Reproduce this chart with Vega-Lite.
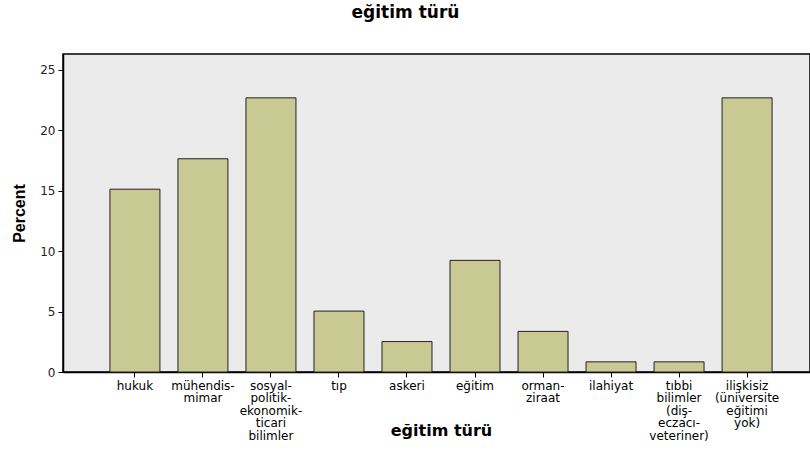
{
  "$schema": "https://vega.github.io/schema/vega-lite/v6.json",
  "autosize": "none",
  "width": 747,
  "height": 318,
  "padding": {"left": 63, "top": 54, "right": 0, "bottom": 95},
  "background": "white",
  "title": {"text": "eğitim türü", "font": "DejaVu Sans", "fontSize": 17, "fontWeight": "bold", "color": "#000000", "anchor": "middle", "dx": -31, "offset": 32},
  "config": {
    "view": {"fill": "#ebebeb", "stroke": "#000000", "strokeWidth": 1.5},
    "axis": {"labelFont": "DejaVu Sans", "titleFont": "DejaVu Sans", "grid": false}
  },
  "data": {"values": [
    {"cat": "hukuk", "label": "hukuk", "pct": 15.13},
    {"cat": "muhendis", "label": "mühendis-|mimar", "pct": 17.65},
    {"cat": "sosyal", "label": "sosyal-|politik-|ekonomik-|ticari|bilimler", "pct": 22.69},
    {"cat": "tip", "label": "tıp", "pct": 5.04},
    {"cat": "askeri", "label": "askeri", "pct": 2.52},
    {"cat": "egitim", "label": "eğitim", "pct": 9.24},
    {"cat": "orman", "label": "orman-|ziraat", "pct": 3.36},
    {"cat": "ilahiyat", "label": "ilahiyat", "pct": 0.84},
    {"cat": "tibbi", "label": "tıbbi|bilimler|(diş-|eczacı-|veteriner)", "pct": 0.84},
    {"cat": "iliskisiz", "label": "ilişkisiz|(üniversite|eğitimi|yok)", "pct": 22.69}
  ]},
  "mark": {"type": "bar", "fill": "#c9c993", "stroke": "#222222", "strokeWidth": 1},
  "encoding": {
    "x": {
      "field": "label", "type": "nominal", "sort": null,
      "scale": {"range": [0, 756], "paddingInner": 0.265, "paddingOuter": 0.69},
      "axis": {
        "title": "eğitim türü", "titleFontSize": 16, "titleFontWeight": "bold", "titleColor": "#000000",
        "titleX": 378, "titleY": 58, "titleAlign": "center", "titleBaseline": "middle",
        "labelAngle": 0, "labelExpr": "split(datum.label, '|')",
        "labelFontSize": 12, "labelColor": "#000000", "labelLineHeight": 12.5, "labelPadding": 3,
        "labelBaseline": "top",
        "tickSize": 5, "tickColor": "#000000", "domainColor": "#000000", "domainWidth": 1.5
      }
    },
    "y": {
      "field": "pct", "type": "quantitative",
      "scale": {"domain": [0, 26.32], "nice": false},
      "axis": {
        "title": "Percent", "titleFont": "Liberation Sans", "titleFontSize": 16, "titleFontWeight": "bold", "titleColor": "#000000",
        "titleX": -44, "titleY": 159, "titleAngle": -90, "titleAlign": "center", "titleBaseline": "middle",
        "values": [0, 5, 10, 15, 20, 25],
        "labelFontSize": 12, "labelColor": "#222222", "labelPadding": 3,
        "tickSize": 5, "tickColor": "#000000", "domainColor": "#000000", "domainWidth": 1.5
      }
    }
  }
}
